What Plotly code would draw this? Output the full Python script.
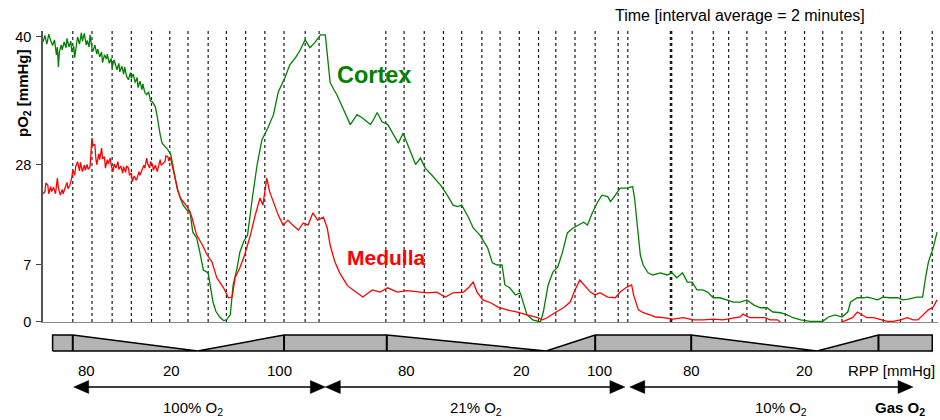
import plotly.graph_objects as go

# ---------------- data ----------------
# time in minutes, pO2 on the chart's (piecewise-labelled) display scale
cortex_t = [0.0,0.2,0.4,0.6,0.8,1.0,1.2,1.4,1.5,1.6,1.7,1.9,2.0,2.2,2.4,2.5,2.7,2.9,3.0,3.2,
            3.3,3.5,3.6,3.8,4.0,4.1,4.3,4.5,4.6,4.8,4.9,5.1,5.2,5.4,5.6,5.7,5.9,6.1,6.2,6.4,
            6.6,6.7,6.9,7.1,7.2,7.4,7.5,7.7,7.9,8.0,8.2,8.4,8.5,8.7,8.9,9.1,9.2,9.4,9.6,9.8,
            9.9,10.1,10.3,10.4,10.6,10.8,11.0,11.2,11.4,11.6,11.7,11.9,12.0,12.2,12.4,12.7,13.0,13.3,13.5,13.8,
            14.0,14.3,14.6,15.0,15.3,15.6,16.0,16.3,16.7,17.2,17.7,18.0,18.4,18.8,19.1,19.5,19.8,20.2,20.5,20.9,
            21.3,21.8,22.3,22.8,23.4,24.0,24.5,25.2,25.7,26.3,26.8,27.3,27.8,28.3,28.9,29.4,29.6,29.9,30.3,30.6,
            31.2,31.7,32.0,32.4,32.7,33.2,33.6,34.1,34.5,34.8,35.3,35.9,36.5,37.0,37.5,38.0,38.4,38.8,39.3,39.8,
            40.5,41.0,41.4,42.1,42.7,43.2,43.6,44.3,44.8,45.5,46.3,46.8,47.3,47.8,48.1,48.6,49.2,49.7,50.0,50.4,
            51.0,51.8,52.1,52.6,53.1,53.6,54.1,54.6,55.2,55.7,56.3,56.7,57.2,57.7,58.2,58.8,59.1,59.6,60.1,60.8,
            61.4,61.6,61.9,62.2,62.5,63.0,63.5,64.3,65.0,65.5,66.0,66.6,67.1,67.6,68.1,68.7,69.2,69.8,70.5,71.3,
            71.9,72.6,73.3,74.0,74.7,75.4,76.0,76.8,77.5,78.1,78.9,79.9,81.2,81.8,82.5,83.2,83.8,84.1,84.8,85.4,
            85.9,86.9,87.5,88.2,89.0,89.5,90.1,91.0,91.6,91.9,92.2,92.7,93.1]
cortex_v = [39.3,40.2,39.0,40.4,39.5,38.8,39.6,37.5,38.6,35.8,37.8,38.9,38.2,39.3,38.5,39.8,38.6,39.4,37.9,38.7,
            37.1,38.8,40.0,39.0,40.6,39.4,40.5,38.9,39.5,38.6,40.3,38.4,38.0,38.9,37.6,38.3,37.2,37.9,36.4,37.5,
            36.9,37.6,36.3,37.0,35.7,36.8,36.2,35.4,36.3,35.1,35.9,34.8,35.8,34.5,34.0,35.0,34.2,34.8,33.6,34.3,
            32.9,33.8,32.6,33.4,32.2,31.9,32.3,31.0,30.9,30.4,30.2,28.8,27.7,26.3,25.1,24.6,24.2,23.5,22.1,20.0,
            18.6,17.4,16.4,15.7,15.5,12.6,11.8,10.0,7.3,6.9,2.8,1.5,0.7,0.2,0.3,1.0,5.2,7.5,9.8,11.3,
            12.2,17.4,22.1,25.6,27.2,29.1,32.3,34.3,36.1,37.1,38.2,39.6,38.5,39.2,40.3,40.3,37.5,33.6,32.6,31.9,
            30.1,28.7,27.7,28.5,29.1,28.7,28.2,27.7,28.6,29.4,28.1,27.7,26.3,25.1,26.5,24.9,23.6,22.1,23.0,21.6,
            20.6,19.8,19.2,17.8,16.4,16.2,16.4,14.7,13.2,12.2,10.4,8.3,8.0,8.0,5.2,4.8,3.8,4.1,2.8,1.0,
            0.3,0.0,1.4,5.2,7.0,7.7,9.8,12.5,13.2,13.6,14.0,13.6,15.3,16.7,17.8,17.6,16.9,17.8,18.8,18.8,
            19.0,17.4,13.6,9.4,8.0,6.9,6.6,6.9,6.6,6.9,6.2,6.9,5.6,5.6,4.5,4.5,4.2,3.4,3.4,3.1,
            2.8,2.8,3.1,2.4,2.0,2.0,1.4,1.3,1.0,0.6,0.3,0.1,0.1,0.7,1.0,0.7,1.4,2.8,3.4,3.4,
            3.5,3.1,3.5,3.4,3.4,3.1,3.2,3.5,3.5,6.2,8.4,10.4,12.6]

medulla_t = [0.0,0.2,0.3,0.5,0.6,0.8,0.9,1.1,1.3,1.5,1.6,1.8,2.0,2.1,2.3,2.5,2.6,2.8,3.0,3.1,
             3.3,3.4,3.6,3.8,3.9,4.1,4.3,4.4,4.6,4.7,4.9,5.0,5.1,5.2,5.4,5.5,5.6,5.8,5.9,6.1,
             6.2,6.4,6.5,6.7,6.8,7.0,7.1,7.3,7.4,7.6,7.8,7.9,8.1,8.3,8.4,8.6,8.7,8.9,9.0,9.2,
             9.3,9.5,9.7,9.8,10.0,10.1,10.3,10.5,10.6,10.8,10.9,11.1,11.2,11.4,11.5,11.7,11.9,12.0,12.2,12.3,
             12.5,12.7,12.8,13.0,13.1,13.3,13.4,13.6,13.8,14.0,14.3,14.6,15.0,15.3,15.5,16.0,16.6,17.1,17.6,18.1,
             18.8,19.3,19.7,20.0,20.5,21.0,21.6,22.1,22.6,22.9,23.3,23.6,24.0,24.5,25.0,25.5,26.0,26.6,27.1,27.6,
             28.1,28.6,29.2,29.6,29.9,30.4,30.9,31.7,32.3,33.3,34.3,35.1,35.9,36.9,37.9,39.0,40.0,41.0,41.9,42.7,
             43.8,44.3,44.8,45.2,45.8,46.6,47.4,48.3,49.4,50.4,51.5,52.0,52.5,53.3,54.2,54.9,55.4,55.9,56.5,57.0,
             57.5,58.0,58.8,59.6,60.1,60.8,61.3,61.5,62.0,62.5,63.2,63.8,64.6,65.6,66.7,67.7,68.8,69.8,70.8,71.9,
             72.6,72.9,73.6,74.4,75.2,75.7,76.5,77.0,83.0,83.2,83.8,84.3,84.8,85.3,85.8,86.5,87.2,87.9,88.5,89.3,
             90.0,90.6,91.1,91.7,92.2,92.7,93.1]
medulla_v = [18.0,18.3,19.5,19.2,18.0,19.0,18.3,18.9,18.0,20.2,18.9,17.8,18.6,18.0,18.8,19.6,18.7,19.2,20.3,21.3,
             20.6,21.8,22.5,21.2,22.4,21.1,22.0,21.3,22.1,21.4,21.8,23.5,25.8,24.8,24.9,23.0,22.1,23.6,22.8,24.4,
             22.9,23.2,21.6,22.8,22.2,23.0,22.0,21.1,22.2,21.6,22.5,21.4,21.9,20.9,21.8,21.0,21.9,21.6,20.6,20.9,
             19.7,20.5,19.9,20.2,21.1,20.6,21.3,22.0,21.6,23.0,22.2,21.6,22.5,22.1,21.3,22.0,21.1,21.8,22.8,22.0,
             22.3,22.5,23.3,23.2,22.6,23.0,22.3,21.0,19.7,18.7,17.4,16.9,16.2,15.4,14.7,12.2,10.8,9.4,8.4,6.2,
             4.8,3.4,3.5,6.2,7.6,9.4,12.2,15.0,17.4,16.4,20.2,18.3,16.9,15.0,13.6,14.3,13.6,12.9,13.9,13.6,
             15.3,14.3,14.7,13.2,10.8,8.4,6.9,5.1,4.5,3.5,4.5,4.2,4.8,4.2,4.4,4.2,4.1,4.2,3.5,4.1,
             4.2,4.8,5.6,4.2,3.1,2.7,2.1,1.7,1.4,1.0,0.6,0.3,0.6,1.3,2.0,2.8,4.5,5.9,4.9,4.2,
             3.8,4.1,3.5,3.4,4.2,4.9,5.2,3.8,1.7,1.3,1.0,0.7,0.6,0.4,0.6,0.3,0.3,0.4,0.3,0.6,
             0.7,1.1,0.6,0.6,0.6,0.3,0.3,-0.3,-0.3,0.0,0.3,0.6,1.4,1.0,0.6,0.6,0.4,0.1,0.1,0.3,
             0.6,0.3,0.3,1.0,1.7,2.1,3.1]

y_tick_vals = [0, 8.0, 22.04, 40]
y_tick_text = ["0", "7", "28", "40"]

interval_marks = [3.1, 5.1, 7.2, 9.2, 11.3, 13.2, 15.1, 17.2, 19.1, 21.1, 23.1, 25.1, 27.3, 28.75,
                  35.7, 37.6, 39.7, 41.7, 43.6, 45.7, 47.6, 49.6, 51.6, 53.4, 55.4, 57.5, 59.9, 60.9,
                  65.4, 67.6, 69.8, 71.4, 73.3, 75.3, 77.3, 79.3, 81.2, 83.2, 85.2, 87.5, 89.3, 92.6]
major_mark = 65.4

# RPP protocol band (1 = plateau, 0 = lowest pressure)
rpp_band_t = [1.0, 1.0, 3.1, 16.1, 25.1, 35.8, 52.4, 57.5, 67.5, 80.6, 87.0, 92.6, 92.6, 1.0]
rpp_band_level = [0, 1, 1, 0, 1, 1, 0, 1, 1, 0, 1, 1, 0, 0]
rpp_steps = [3.1, 25.1, 35.8, 57.5, 67.5, 87.0]
rpp_label_t = [4.5, 13.4, 24.6, 37.9, 49.8, 57.9, 67.5, 79.3]
rpp_label_text = ["80", "20", "100", "80", "20", "100", "80", "20"]

gas_start = [3.2, 29.4, 61.1]
gas_end = [29.4, 60.6, 90.6]
gas_label_t = [15.6, 45.1, 76.8]
gas_label_text = ["100% O<sub>2</sub>", "21% O<sub>2</sub>", "10% O<sub>2</sub>"]

FONT = "Liberation Sans, Arial, sans-serif"
GREEN = "#008000"
RED = "#ff0000"

fig = go.Figure()
fig.add_trace(go.Scatter(x=cortex_t, y=cortex_v, mode="lines",
                         line=dict(color=GREEN, width=1.3), name="Cortex"))
fig.add_trace(go.Scatter(x=medulla_t, y=medulla_v, mode="lines",
                         line=dict(color=RED, width=1.3), name="Medulla"))
fig.add_trace(go.Scatter(x=rpp_band_t, y=rpp_band_level, mode="lines", fill="toself",
                         fillcolor="#b4b4b4", line=dict(color="black", width=1.5),
                         xaxis="x", yaxis="y2", hoverinfo="skip"))

shapes = []
for m in interval_marks:
    shapes.append(dict(type="line", xref="x", yref="y", x0=m, x1=m, y0=0, y1=40.84,
                       line=dict(color="#1a1a1a", width=2.6 if m == major_mark else 1.2, dash="dot"),
                       layer="below"))
for s in rpp_steps:
    shapes.append(dict(type="line", xref="x", yref="y2", x0=s, x1=s, y0=0, y1=1,
                       line=dict(color="black", width=2)))

AY = -0.1056
HH = 0.0202
HL = 1.56
for a, b in zip(gas_start, gas_end):
    shapes.append(dict(type="line", xref="x", yref="paper", x0=a + HL * 0.5, x1=b - HL * 0.5,
                       y0=AY, y1=AY, line=dict(color="black", width=1.5)))
    shapes.append(dict(type="path", xref="x", yref="paper",
                       path=f"M {a},{AY} L {a+HL},{AY+HH} L {a+HL},{AY-HH} Z",
                       fillcolor="black", line=dict(color="black", width=0.5)))
    shapes.append(dict(type="path", xref="x", yref="paper",
                       path=f"M {b},{AY} L {b-HL},{AY+HH} L {b-HL},{AY-HH} Z",
                       fillcolor="black", line=dict(color="black", width=0.5)))

ann = []
for t, txt in zip(rpp_label_t, rpp_label_text):
    ann.append(dict(x=t, y=-0.0528, xref="x", yref="paper", text=txt, showarrow=False,
                    xanchor="center", yanchor="middle",
                    font=dict(size=15, color="black", family=FONT)))
ann.append(dict(x=93.1, y=-0.0528, xref="x", yref="paper", text="RPP [mmHg]", showarrow=False,
                xanchor="right", yanchor="middle", font=dict(size=15, color="black", family=FONT)))
for t, txt in zip(gas_label_t, gas_label_text):
    ann.append(dict(x=t, y=-0.172, xref="x", yref="paper", text=txt, showarrow=False,
                    xanchor="center", yanchor="middle",
                    font=dict(size=15, color="black", family=FONT)))
ann.append(dict(x=89.2, y=-0.172, xref="x", yref="paper", text="<b>Gas O<sub>2</sub></b>",
                showarrow=False, xanchor="center", yanchor="middle",
                font=dict(size=15, color="black", family=FONT)))
ann.append(dict(x=72.6, y=1.048, xref="x", yref="paper", text="Time [interval average = 2 minutes]",
                showarrow=False, xanchor="center", yanchor="middle",
                font=dict(size=16, color="black", family=FONT)))
ann.append(dict(x=34.5, y=34.7, xref="x", yref="y", text="<b>Cortex</b>", showarrow=False,
                xanchor="center", yanchor="middle",
                font=dict(size=23.5, color=GREEN, family=FONT)))
ann.append(dict(x=35.7, y=9.1, xref="x", yref="y", text="<b>Medulla</b>", showarrow=False,
                xanchor="center", yanchor="middle",
                font=dict(size=21, color=RED, family=FONT)))
ann.append(dict(x=-0.0218, y=0.809, xref="paper", yref="paper", text="<b>pO<sub>2</sub> [mmHg]</b>",
                showarrow=False, textangle=-90, xanchor="center", yanchor="middle",
                font=dict(size=15, color="black", family=FONT)))

fig.update_layout(
    width=940, height=420,
    margin=dict(l=43, r=2, t=31, b=67),
    paper_bgcolor="white", plot_bgcolor="white",
    showlegend=False,
    font=dict(family=FONT, color="black"),
    xaxis=dict(range=[0, 93.2], showgrid=False, zeroline=False, showticklabels=False,
               ticks="", showline=True, linecolor="#8a8a8a", linewidth=1, anchor="y"),
    yaxis=dict(domain=[0.0963, 1], range=[0, 40.84], tickvals=y_tick_vals, ticktext=y_tick_text,
               ticks="outside", ticklen=5, tickcolor="#444", tickwidth=1.2,
               ticklabelstandoff=2,
               showline=True, linecolor="#555", linewidth=1.5, showgrid=False, zeroline=False,
               tickfont=dict(size=14.5, color="black", family=FONT)),
    yaxis2=dict(domain=[0, 0.0621], range=[-0.125, 1.125], visible=False, anchor="x"),
    shapes=shapes,
    annotations=ann,
)

fig.write_html("out.html", config={"displayModeBar": False},
               post_script="document.body.style.margin='0px';document.body.style.overflow='hidden';")
